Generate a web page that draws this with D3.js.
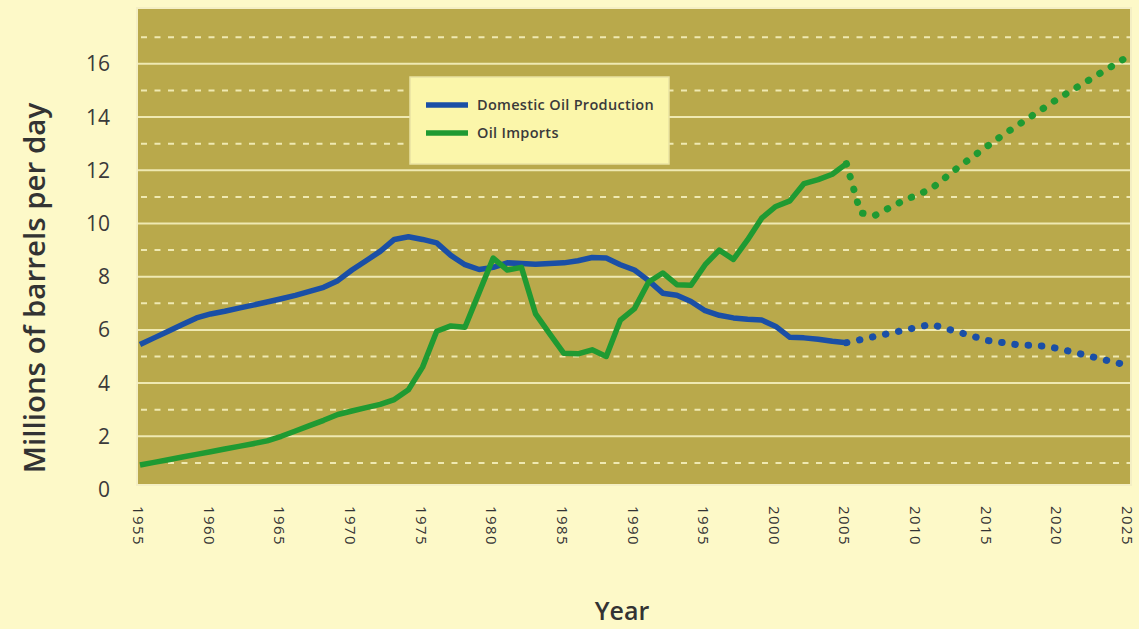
<!DOCTYPE html>
<html>
<head>
<meta charset="utf-8">
<script src="https://cdn.jsdelivr.net/npm/d3@7"></script>
<style>
  body { margin: 0; background: #fdf9c8; }
  svg { display: block; }
</style>
</head>
<body>
<svg id="chart"></svg>
<script>
// historic series, million barrels per day
const years = [1955, 1956, 1957, 1958, 1959, 1960, 1961, 1962, 1963, 1964,
  1965, 1966, 1967, 1968, 1969, 1970, 1971, 1972, 1973, 1974,
  1975, 1976, 1977, 1978, 1979, 1980, 1981, 1982, 1983, 1984,
  1985, 1986, 1987, 1988, 1989, 1990, 1991, 1992, 1993, 1994,
  1995, 1996, 1997, 1998, 1999, 2000, 2001, 2002, 2003, 2004, 2005];

const production = [5.45, 5.7, 5.95, 6.2, 6.45, 6.6, 6.7, 6.82, 6.93, 7.05,
  7.17, 7.3, 7.45, 7.6, 7.85, 8.25, 8.6, 8.95, 9.4, 9.5,
  9.4, 9.27, 8.8, 8.45, 8.27, 8.35, 8.52, 8.5, 8.47, 8.5,
  8.52, 8.6, 8.72, 8.7, 8.45, 8.25, 7.85, 7.38, 7.3, 7.07,
  6.72, 6.55, 6.45, 6.4, 6.37, 6.13, 5.72, 5.7, 5.65, 5.57, 5.52];

const imports = [0.92, 1.02, 1.12, 1.22, 1.32, 1.42, 1.52, 1.62, 1.72, 1.83,
  2.0, 2.2, 2.4, 2.6, 2.82, 2.95, 3.08, 3.2, 3.38, 3.75,
  4.6, 5.95, 6.15, 6.1, 7.4, 8.7, 8.25, 8.35, 6.6, 5.85,
  5.12, 5.1, 5.25, 5.0, 6.37, 6.8, 7.8, 8.14, 7.7, 7.68,
  8.45, 9.0, 8.65, 9.38, 10.2, 10.64, 10.85, 11.5, 11.65, 11.85, 12.25];

// projections (dotted)
const prodProjYears = [2005, 2011, 2015, 2017, 2019, 2020, 2025];
const prodProj = [5.52, 6.21, 5.6, 5.45, 5.39, 5.3, 4.65];

const impProjYears = [2005, 2006, 2007, 2009, 2011, 2013, 2016, 2020, 2025];
const impProj = [12.25, 10.4, 10.3, 10.85, 11.3, 12.15, 13.3, 14.7, 16.3];

const xTicks = [1955, 1960, 1965, 1970, 1975, 1980, 1985, 1990, 1995, 2000, 2005, 2010, 2015, 2020, 2025];
const yTicks = [0, 2, 4, 6, 8, 10, 12, 14, 16];

const seriesNames = ["Domestic Oil Production", "Oil Imports"];
const seriesColors = ["#1a4fa6", "#1f9a32"];

const width = 1139, height = 629;
const plot = { left: 137, right: 1131, top: 8, bottom: 485 };

const svg = d3.select("#chart").attr("width", width).attr("height", height);

const x = d3.scaleLinear().domain([1955, 2025]).range([140, 1129]);
const y = d3.scaleLinear().domain([0, 18.1]).range([489.5, 8]);

// plot background
svg.append("rect")
  .attr("x", plot.left).attr("y", plot.top)
  .attr("width", plot.right - plot.left).attr("height", plot.bottom - plot.top)
  .attr("fill", "#b9a94b")
  .attr("stroke", "#f4efc4").attr("stroke-width", 2);

// grid: solid at even values, dashed at odd ones
const grid = svg.append("g");
grid.selectAll("line.solid").data(yTicks.filter(d => d > 0)).enter().append("line")
  .attr("class", "solid")
  .attr("x1", plot.left + 1).attr("x2", plot.right - 1)
  .attr("y1", d => y(d)).attr("y2", d => y(d))
  .attr("stroke", "#efe9b2").attr("stroke-width", 2);
grid.selectAll("line.dash").data(d3.range(1, 18, 2)).enter().append("line")
  .attr("class", "dash")
  .attr("x1", plot.left + 4).attr("x2", plot.right - 1)
  .attr("y1", d => y(d)).attr("y2", d => y(d))
  .attr("stroke", "#efe9b2").attr("stroke-width", 2)
  .attr("stroke-dasharray", "6,7.5");

// y labels
svg.append("g").selectAll("text").data(yTicks).enter().append("text")
  .attr("x", 110).attr("y", d => y(d))
  .attr("dy", "0.36em")
  .attr("text-anchor", "end")
  .attr("font-family", "Open Sans, sans-serif")
  .attr("font-size", 21)
  .attr("fill", "#3a3a3a")
  .text(d => d);

// x labels, rotated
svg.append("g").selectAll("text").data(xTicks).enter().append("text")
  .attr("transform", d => `translate(${x(d) - 1},506) rotate(90)`)
  .attr("dominant-baseline", "central")
  .attr("font-family", "Open Sans, sans-serif")
  .attr("font-size", 15)
  .attr("letter-spacing", 1.4)
  .attr("fill", "#333")
  .text(d => d);

// axis titles
svg.append("text")
  .attr("transform", "translate(33,288) rotate(-90)")
  .attr("text-anchor", "middle")
  .attr("dominant-baseline", "central")
  .attr("font-family", "Open Sans, sans-serif")
  .attr("font-size", 29.5).attr("font-weight", 600)
  .attr("fill", "#333")
  .text("Millions of barrels per day");

svg.append("text")
  .attr("x", 622).attr("y", 620)
  .attr("text-anchor", "middle")
  .attr("font-family", "Open Sans, sans-serif")
  .attr("font-size", 25).attr("font-weight", 600)
  .attr("fill", "#333")
  .text("Year");

// lines
const line = d3.line().x(d => x(d[0])).y(d => y(d[1]));

const prodData = years.map((yr, i) => [yr, production[i]]);
const impData = years.map((yr, i) => [yr, imports[i]]);
const prodProjData = prodProjYears.map((yr, i) => [yr, prodProj[i]]);
const impProjData = impProjYears.map((yr, i) => [yr, impProj[i]]);

svg.append("path").datum(prodProjData)
  .attr("d", line).attr("fill", "none")
  .attr("stroke", seriesColors[0]).attr("stroke-width", 7)
  .attr("stroke-linecap", "round").attr("stroke-dasharray", "0.5,12.8");
svg.append("path").datum(impProjData)
  .attr("d", line).attr("fill", "none")
  .attr("stroke", seriesColors[1]).attr("stroke-width", 7)
  .attr("stroke-linecap", "round").attr("stroke-dasharray", "0.5,12.8");

svg.append("path").datum(prodData)
  .attr("d", line).attr("fill", "none")
  .attr("stroke", seriesColors[0]).attr("stroke-width", 5.5)
  .attr("stroke-linejoin", "round");
svg.append("path").datum(impData)
  .attr("d", line).attr("fill", "none")
  .attr("stroke", seriesColors[1]).attr("stroke-width", 5.5)
  .attr("stroke-linejoin", "round");

// legend
const legend = svg.append("g");
legend.append("rect")
  .attr("x", 410).attr("y", 77).attr("width", 259).attr("height", 87)
  .attr("fill", "#fbf6aa").attr("stroke", "#e9e2a2").attr("stroke-width", 1.5);
const item = legend.selectAll("g.item").data(seriesNames).enter().append("g")
  .attr("class", "item")
  .attr("transform", (d, i) => `translate(0,${105 + i * 28})`);
item.append("line")
  .attr("x1", 426).attr("x2", 468)
  .attr("stroke", (d, i) => seriesColors[i]).attr("stroke-width", 5.5);
item.append("text")
  .attr("x", 477).attr("dy", "0.35em")
  .attr("font-family", "Open Sans, sans-serif")
  .attr("font-size", 14.5).attr("font-weight", 600)
  .attr("letter-spacing", 0.3)
  .attr("fill", "#3a3a3a")
  .text(d => d);
</script>
</body>
</html>
